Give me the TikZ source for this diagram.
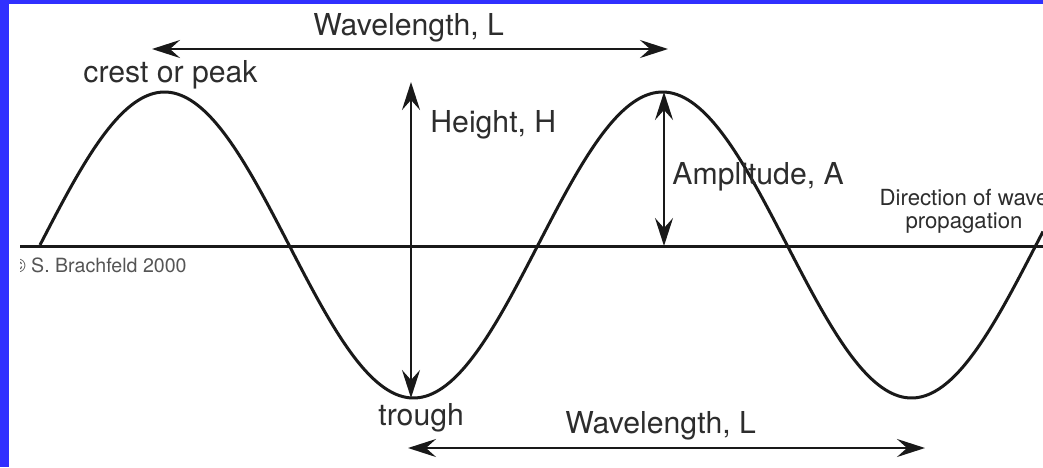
\documentclass[tikz,border=0pt]{standalone}
\usepackage{fontspec}
\setmainfont{TeX Gyre Heros}
\usetikzlibrary{arrows.meta}
\definecolor{slideblue}{RGB}{48,48,255}
\definecolor{inkgray}{RGB}{45,45,45}
\definecolor{copygray}{RGB}{85,85,85}
\begin{document}
\begin{tikzpicture}[x=0.5pt,y=-0.5pt,
  lbl/.style={anchor=base west, inner sep=0pt, text=inkgray, font=\fontsize{15.1}{17}\selectfont},
  smalllbl/.style={anchor=base, inner sep=0pt, text=inkgray, font=\fontsize{11.1}{12}\selectfont},
  copylbl/.style={anchor=base east, inner sep=0pt, text=copygray, font=\fontsize{9.8}{11}\selectfont},
  tipstyle/.tip={Stealth[length=14pt,width=9pt,inset=5pt]},
  dim/.style={line width=1.2pt, draw=black!90, tipstyle-tipstyle},
  wave/.style={line width=1.5pt, draw=black!90},
]
\useasboundingbox (0,0) rectangle (1043,467);
\fill[white] (0,0) rectangle (1043,467);

% named coordinates
\coordinate (baseL) at (20,246);
\coordinate (baseR) at (1043,246);
\coordinate (wlTopL) at (152,49);
\coordinate (wlTopR) at (668,49);
\coordinate (wlBotL) at (408,448);
\coordinate (wlBotR) at (925,448);
\coordinate (hTop) at (411,82);
\coordinate (hBot) at (411,398);
\coordinate (aTop) at (664,92);
\coordinate (aBot) at (664,246);

\begin{scope}
  \clip (20,0) rectangle (1043,467);
  \draw[wave] (baseL) -- (baseR);
  \draw[wave] plot[domain=40:1043, samples=300, smooth]
     (\x, {245 - 153*sin(0.7228916*(\x-40))});
  \node[copylbl] (copy) at (187,272) {© S. Brachfeld 2000};
  \node[smalllbl] (dir1) at (964,205) {Direction of wave};
  \node[smalllbl] (dir2) at (964,228) {propagation};
\end{scope}

% dimension arrows
\draw[dim] (wlTopL) -- (wlTopR);
\draw[dim] (wlBotL) -- (wlBotR);
\draw[dim] (hTop) -- (hBot);
\draw[dim] (aTop) -- (aBot);

% labels
\node[lbl] (wlTop) at (313,35) {Wavelength, L};
\node[lbl] (crest) at (83,82) {crest or peak};
\node[lbl] (height) at (430,132) {Height, H};
\node[lbl] (ampl) at (672,184) {Amplitude, A};
\node[lbl] (trough) at (378,425) {trough};
\node[lbl] (wlBot) at (565,433) {Wavelength, L};

% slide border
\fill[slideblue] (0,0) rectangle (9,467);
\fill[slideblue] (0,0) rectangle (1043,4);
\end{tikzpicture}
\end{document}
